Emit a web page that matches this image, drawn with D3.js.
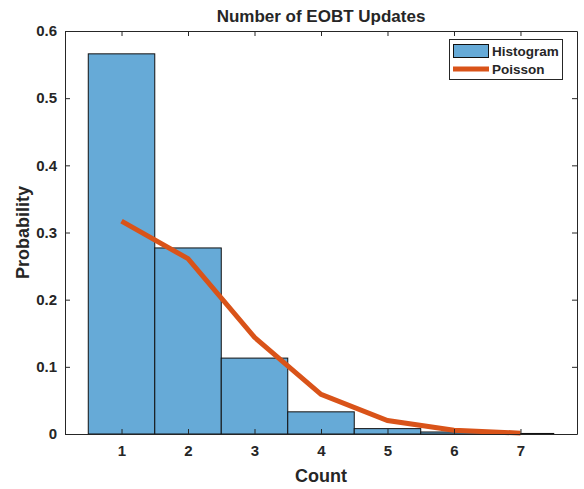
<!DOCTYPE html>
<html><head><meta charset="utf-8">
<script src="https://cdn.jsdelivr.net/npm/d3@7"></script>
<style>body{margin:0;background:#fff}svg{display:block}text{font-family:"Liberation Sans",Arial,Helvetica,sans-serif;font-weight:bold;fill:#262626}</style>
</head><body><svg id="c" width="584" height="489"></svg>
<script>
const counts = [1, 2, 3, 4, 5, 6, 7];
const histValues = [0.566, 0.277, 0.113, 0.033, 0.008, 0.003, 0.0008];
const poissonValues = [0.317, 0.261, 0.144, 0.059, 0.020, 0.0055, 0.0013];
const xTicks = [1, 2, 3, 4, 5, 6, 7];
const yTicks = [0, 0.1, 0.2, 0.3, 0.4, 0.5, 0.6];
const title = "Number of EOBT Updates";
const xLabel = "Count";
const yLabel = "Probability";
const legendLabels = ["Histogram", "Poisson"];

const L = 65, R = 577, T = 31, B = 434;
const svg = d3.select("#c");
const x = d3.scaleLinear().domain([0.15, 7.85]).range([L, R]);
const y = d3.scaleLinear().domain([0, 0.6]).range([B, T]);
const barFill = "#66AAD7", lineCol = "#D95319", axCol = "#262626";

// bars
svg.append("g").selectAll("rect").data(counts).join("rect")
  .attr("x", (d) => x(d - 0.5)).attr("width", (d) => x(d + 0.5) - x(d - 0.5))
  .attr("y", (d, i) => y(histValues[i])).attr("height", (d, i) => y(0) - y(histValues[i]))
  .attr("fill", barFill).attr("stroke", "#111").attr("stroke-width", 1);

// poisson line
svg.append("path").datum(counts)
  .attr("d", d3.line().x((d) => x(d)).y((d, i) => y(poissonValues[i])))
  .attr("fill", "none").attr("stroke", lineCol).attr("stroke-width", 5);

// axes
const tl = 5;
const xb = svg.append("g").attr("transform", `translate(0,${B})`)
  .call(d3.axisBottom(x).tickValues(xTicks).tickFormat(d3.format("d")).tickSizeInner(-tl).tickSizeOuter(0).tickPadding(11));
const xt = svg.append("g").attr("transform", `translate(0,${T})`)
  .call(d3.axisTop(x).tickValues(xTicks).tickFormat("").tickSizeInner(-tl).tickSizeOuter(0));
const yl = svg.append("g").attr("transform", `translate(${L},0)`)
  .call(d3.axisLeft(y).tickValues(yTicks).tickFormat((d) => d === 0 ? "0" : d3.format(".1f")(d)).tickSizeInner(-tl).tickSizeOuter(0).tickPadding(8));
const yr = svg.append("g").attr("transform", `translate(${R},0)`)
  .call(d3.axisRight(y).tickValues(yTicks).tickFormat("").tickSizeInner(-tl).tickSizeOuter(0));
[xb, xt, yl, yr].forEach((g) => {
  g.selectAll("path,line").attr("stroke", axCol).attr("stroke-width", 1);
  g.selectAll("text").attr("font-size", 15).attr("font-family", null).attr("fill", axCol);
});

// titles
svg.append("text").attr("x", (L + R) / 2).attr("y", 22).attr("text-anchor", "middle").attr("font-size", 17).text(title);
svg.append("text").attr("x", (L + R) / 2).attr("y", 482).attr("text-anchor", "middle").attr("font-size", 18).text(xLabel);
svg.append("text").attr("transform", `translate(29,${(T + B) / 2}) rotate(-90)`).attr("text-anchor", "middle").attr("font-size", 18).text(yLabel);

// legend
const lg = svg.append("g");
lg.append("rect").attr("x", 449.5).attr("y", 39.5).attr("width", 113).attr("height", 40).attr("fill", "#fff").attr("stroke", axCol).attr("stroke-width", 1);
lg.append("rect").attr("x", 453.5).attr("y", 44.5).attr("width", 35).attr("height", 13).attr("fill", barFill).attr("stroke", "#111");
lg.append("line").attr("x1", 453).attr("x2", 489).attr("y1", 69).attr("y2", 69).attr("stroke", lineCol).attr("stroke-width", 5);
lg.append("text").attr("x", 492).attr("y", 56).attr("font-size", 13.5).text(legendLabels[0]);
lg.append("text").attr("x", 492).attr("y", 74).attr("font-size", 13.5).text(legendLabels[1]);
</script></body></html>
